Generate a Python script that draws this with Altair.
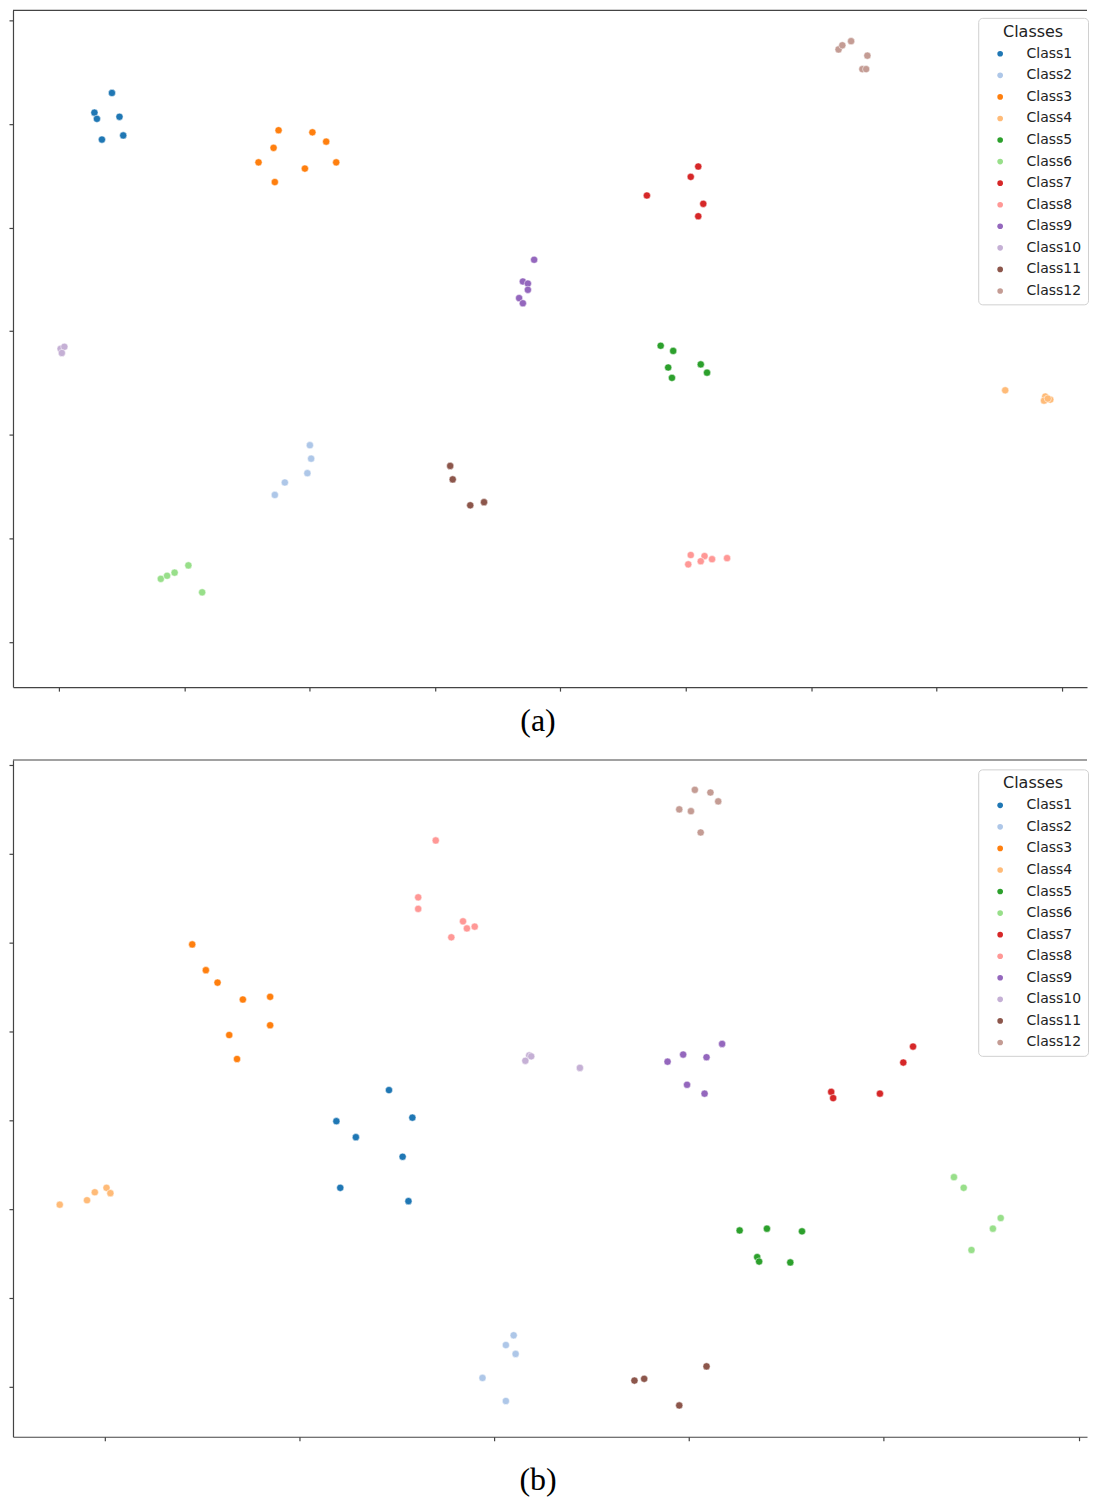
import altair as alt
import pandas as pd

CLASSES = ["Class1", "Class2", "Class3", "Class4", "Class5", "Class6",
           "Class7", "Class8", "Class9", "Class10", "Class11", "Class12"]
PALETTE = ["#1f77b4", "#aec7e8", "#ff7f0e", "#ffbb78", "#2ca02c", "#98df8a",
           "#d62728", "#ff9896", "#9467bd", "#c5b0d5", "#8c564b", "#c49c94"]

# ---------------- panel (a) ----------------
A_COUNTS = [6, 5, 8, 5, 6, 5, 5, 6, 6, 3, 4, 6]
A_X = [
    -35.8, -37.2, -37.0, -35.2, -36.6, -34.9,               # Class1
    -20.0, -19.9, -20.2, -22.0, -22.8,                      # Class2
    -22.5, -19.8, -18.7, -22.9, -24.1, -17.9, -20.4, -22.8, # Class3
    35.5, 38.7, 38.6, 39.1, 38.9,                           # Class4
    8.0, 9.0, 8.6, 8.9, 11.2, 11.7,                         # Class5
    -31.9, -31.4, -30.8, -29.7, -28.6,                      # Class6
    11.0, 10.4, 6.9, 11.4, 11.0,                            # Class7
    10.4, 11.5, 11.2, 12.1, 10.2, 13.3,                     # Class8
    -2.1, -3.0, -2.6, -2.6, -3.3, -3.0,                     # Class9
    -39.9, -39.6, -39.8,                                    # Class10
    -8.8, -8.6, -7.2, -6.1,                                 # Class11
    22.2, 22.5, 23.2, 24.5, 24.1, 24.4,                     # Class12
]
A_Y = [
    23.0, 21.1, 20.5, 20.7, 18.5, 18.9,
    -11.0, -12.3, -13.7, -14.6, -15.8,
    19.4, 19.2, 18.3, 17.7, 16.3, 16.3, 15.7, 14.4,
    -5.7, -6.3, -6.7, -6.6, -6.5,
    -1.4, -1.9, -3.5, -4.5, -3.2, -4.0,
    -23.9, -23.6, -23.3, -22.6, -25.2,
    15.9, 14.9, 13.1, 12.3, 11.1,
    -21.6, -21.7, -22.2, -22.0, -22.5, -21.9,
    6.9, 4.8, 4.6, 4.0, 3.2, 2.7,
    -1.7, -1.5, -2.1,
    -13.0, -14.3, -16.8, -16.5,
    27.2, 27.6, 28.0, 26.6, 25.3, 25.3,
]
A_XTICKS = [-40, -30, -20, -10, 0, 10, 20, 30, 40]
A_YTICKS = [-30, -20, -10, 0, 10, 20, 30]

# ---------------- panel (b) ----------------
B_COUNTS = [7, 5, 8, 5, 6, 5, 5, 7, 6, 4, 4, 6]
B_X = [
    -5.4, -8.1, -4.2, -7.1, -4.7, -7.9, -4.4,               # Class1
    1.0, 0.6, 1.1, -0.6, 0.6,                               # Class2
    -15.5, -14.8, -14.2, -12.9, -11.5, -11.5, -13.6, -13.2, # Class3
    -22.3, -20.9, -20.5, -19.9, -19.7,                      # Class4
    12.6, 14.0, 15.8, 13.5, 13.6, 15.2,                     # Class5
    23.6, 24.1, 26.0, 25.6, 24.5,                           # Class6
    21.5, 21.0, 17.3, 17.4, 19.8,                           # Class7
    -3.0, -3.9, -3.9, -1.6, -1.4, -1.0, -2.2,               # Class8
    11.7, 9.7, 10.9, 8.9, 9.9, 10.8,                        # Class9
    1.8, 1.9, 1.6, 4.4,                                     # Class10
    7.2, 7.7, 10.9, 9.5,                                    # Class11
    10.3, 11.1, 11.5, 9.5, 10.1, 10.6,                      # Class12
]
B_Y = [
    -6.6, -10.1, -9.7, -11.9, -14.1, -17.6, -19.1,
    -34.2, -35.3, -36.3, -39.0, -41.6,
    9.8, 6.9, 5.5, 3.6, 3.9, 0.7, -0.4, -3.1,
    -19.5, -19.0, -18.1, -17.6, -18.2,
    -22.4, -22.2, -22.5, -25.4, -25.9, -26.0,
    -16.4, -17.6, -21.0, -22.2, -24.6,
    -1.7, -3.5, -6.8, -7.5, -7.0,
    21.5, 15.1, 13.8, 12.4, 11.6, 11.8, 10.6,
    -1.4, -2.6, -2.9, -3.4, -6.0, -7.0,
    -2.7, -2.8, -3.3, -4.1,
    -39.3, -39.1, -37.7, -42.1,
    27.2, 26.9, 25.9, 25.0, 24.8, 22.4,
]
B_XTICKS = [-20, -10, 0, 10, 20, 30]
B_YTICKS = [-40, -30, -20, -10, 0, 10, 20, 30]

W = 1076
H = 678
SPINE = "#444444"


def make_df(counts, xs, ys):
    labels = []
    for name, n in zip(CLASSES, counts):
        labels += [name] * n
    return pd.DataFrame({"x": xs, "y": ys, "cls": labels})


def panel(df, xdom, ydom, xticks, yticks, caption, cap_offset, legend_y):
    axis_common = dict(labels=False, title=None, grid=False, ticks=True,
                       tickSize=4, tickColor=SPINE, tickWidth=1.2,
                       domainColor=SPINE, domainWidth=1.2)
    pts = alt.Chart(df).mark_circle(
        size=52, opacity=1, stroke="white", strokeWidth=0.5
    ).encode(
        x=alt.X("x:Q", scale=alt.Scale(domain=xdom, nice=False, zero=False),
                axis=alt.Axis(values=xticks, **axis_common)),
        y=alt.Y("y:Q", scale=alt.Scale(domain=ydom, nice=False, zero=False),
                axis=alt.Axis(values=yticks, **axis_common)),
        color=alt.Color(
            "cls:N",
            scale=alt.Scale(domain=CLASSES, range=PALETTE),
            sort=CLASSES,
            legend=alt.Legend(
                title="Classes", orient="none", legendX=967, legendY=legend_y,
                fillColor="white", strokeColor="#d0d0d0",
                cornerRadius=4, padding=6,
                titleFont="DejaVu Sans", titleFontSize=16, titleFontWeight="normal",
                titleColor="#222222", titleAnchor="middle", titlePadding=7,
                labelFont="DejaVu Sans", labelFontSize=14, labelColor="#222222",
                symbolType="circle", symbolSize=32, symbolStrokeWidth=0,
                symbolOffset=9, labelOffset=19.5, rowPadding=7.6,
            ),
        ),
    )
    top = alt.Chart(pd.DataFrame({"k": [0]})).mark_rule(
        color=SPINE, strokeWidth=1.2
    ).encode(x=alt.value(0), x2=alt.value(W), y=alt.value(0))
    return alt.layer(pts, top).properties(
        width=W, height=H,
        title=alt.TitleParams(caption, orient="bottom", font="Liberation Serif",
                              fontSize=32, fontWeight="normal", color="black",
                              anchor="middle", offset=cap_offset, dx=-12),
    )


df_a = make_df(A_COUNTS, A_X, A_Y)
df_b = make_df(B_COUNTS, B_X, B_Y)

pa = panel(df_a, [-43.7, 42.03], [-34.35, 30.97], A_XTICKS, A_YTICKS, "(a)", 14, 7.5)
pb = panel(df_b, [-24.70, 30.43], [-45.62, 30.56], B_XTICKS, B_YTICKS, "(b)", 24, 9.4)

chart = alt.vconcat(pa, pb, spacing=22).resolve_scale(
    color="independent"
).resolve_legend(color="independent").properties(
    padding={"left": 0, "top": 0, "right": 0, "bottom": 0}
).configure_view(stroke=None)

chart.save("out.html", embed_options={"renderer": "svg", "actions": False})
